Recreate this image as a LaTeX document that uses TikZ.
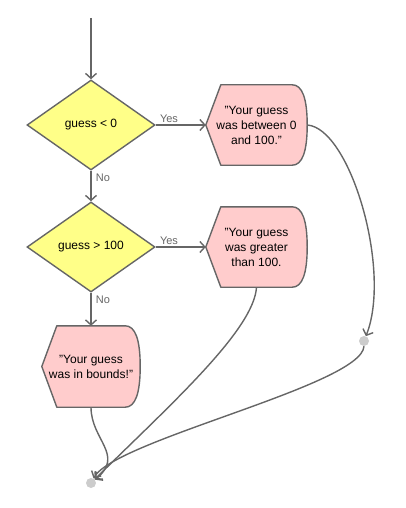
\documentclass[tikz,border=0pt]{standalone}
\usepackage{fontspec}
\setmainfont{Liberation Sans}
\usetikzlibrary{shapes.geometric,arrows.meta,backgrounds,calc}
\definecolor{edgec}{HTML}{666666}
\definecolor{yel}{HTML}{FFFF88}
\definecolor{pnk}{HTML}{FFCCCC}
\definecolor{dotc}{HTML}{CCCCCC}
\newcommand\myDisp[1]{%
  \draw[shapeline] (#1.west) -- ([xshift=15pt]#1.north west) -- ([xshift=-15pt]#1.north east)
    .. controls ([xshift=-5pt]#1.north east) and ($(#1.east)!0.667!(#1.north east)$) .. (#1.east)
    .. controls ($(#1.east)!0.667!(#1.south east)$) and ([xshift=-5pt]#1.south east) .. ([xshift=-15pt]#1.south east)
    -- ([xshift=15pt]#1.south west) -- cycle;}
\begin{document}
\begin{tikzpicture}[x=1pt,y=-1pt,
  decision/.style={diamond, draw=edgec, fill=yel, line width=1.4pt, minimum width=128pt, minimum height=90pt, inner sep=0pt, font=\fontsize{12}{14}\selectfont},
  textbox/.style={minimum width=101pt, minimum height=80pt, inner sep=0pt, align=center, font=\fontsize{12}{15}\selectfont},
  shapeline/.style={draw=edgec, fill=pnk, line width=1.4pt, line join=round},
  conn/.style={draw=edgec, line width=1.4pt, -{Straight Barb[length=5pt,width=11pt,line width=1.4pt]}},
  lbl/.style={text=edgec, font=\fontsize{11}{12}\selectfont, inner sep=1pt},
  mdot/.style={circle, fill=dotc, minimum size=10pt, inner sep=0pt},
]
\useasboundingbox (0,0) rectangle (406,508);
\coordinate (start) at (91,18);
\node[decision] (d1) at (91,125) {guess < 0};
\node[decision] (d2) at (91,247) {guess > 100};
\node[textbox] (s1) at (256.5,125) {"Your guess\\was between 0\\and 100."};
\node[textbox] (s2) at (256.5,247) {"Your guess\\was greater\\than 100.};
\node[textbox, minimum width=98pt, minimum height=81pt] (s3) at (91,366.5) {"Your guess\\was in bounds!"};
\node[mdot] (m1) at (364,341) {};
\node[mdot] (m2) at (91,483) {};
\begin{scope}[on background layer]
  \myDisp{s1}
  \myDisp{s2}
  \myDisp{s3}
\end{scope}
\draw[conn] (start) -- (d1.north);
\draw[conn] (d1.east) -- (s1.west);
\node[lbl] (y1) at (169,119) {Yes};
\draw[conn] (d1.south) -- (d2.north);
\node[lbl] (n1) at (103,178) {No};
\draw[conn] (d2.east) -- (s2.west);
\node[lbl] (y2) at (169,241) {Yes};
\draw[conn] (d2.south) -- (s3.north);
\node[lbl] (n2) at (103,300) {No};
\draw[conn] (s1.east) .. controls (350,128) and (392,270) .. (m1);
\draw[conn] (m1.south) .. controls (362,385) and (115,440) .. (m2);
\draw[conn] (s2.south) .. controls (254,330) and (170,405) .. (m2);
\draw[conn] (s3.south) .. controls (91,440) and (125,455) .. (m2);
\end{tikzpicture}
\end{document}
